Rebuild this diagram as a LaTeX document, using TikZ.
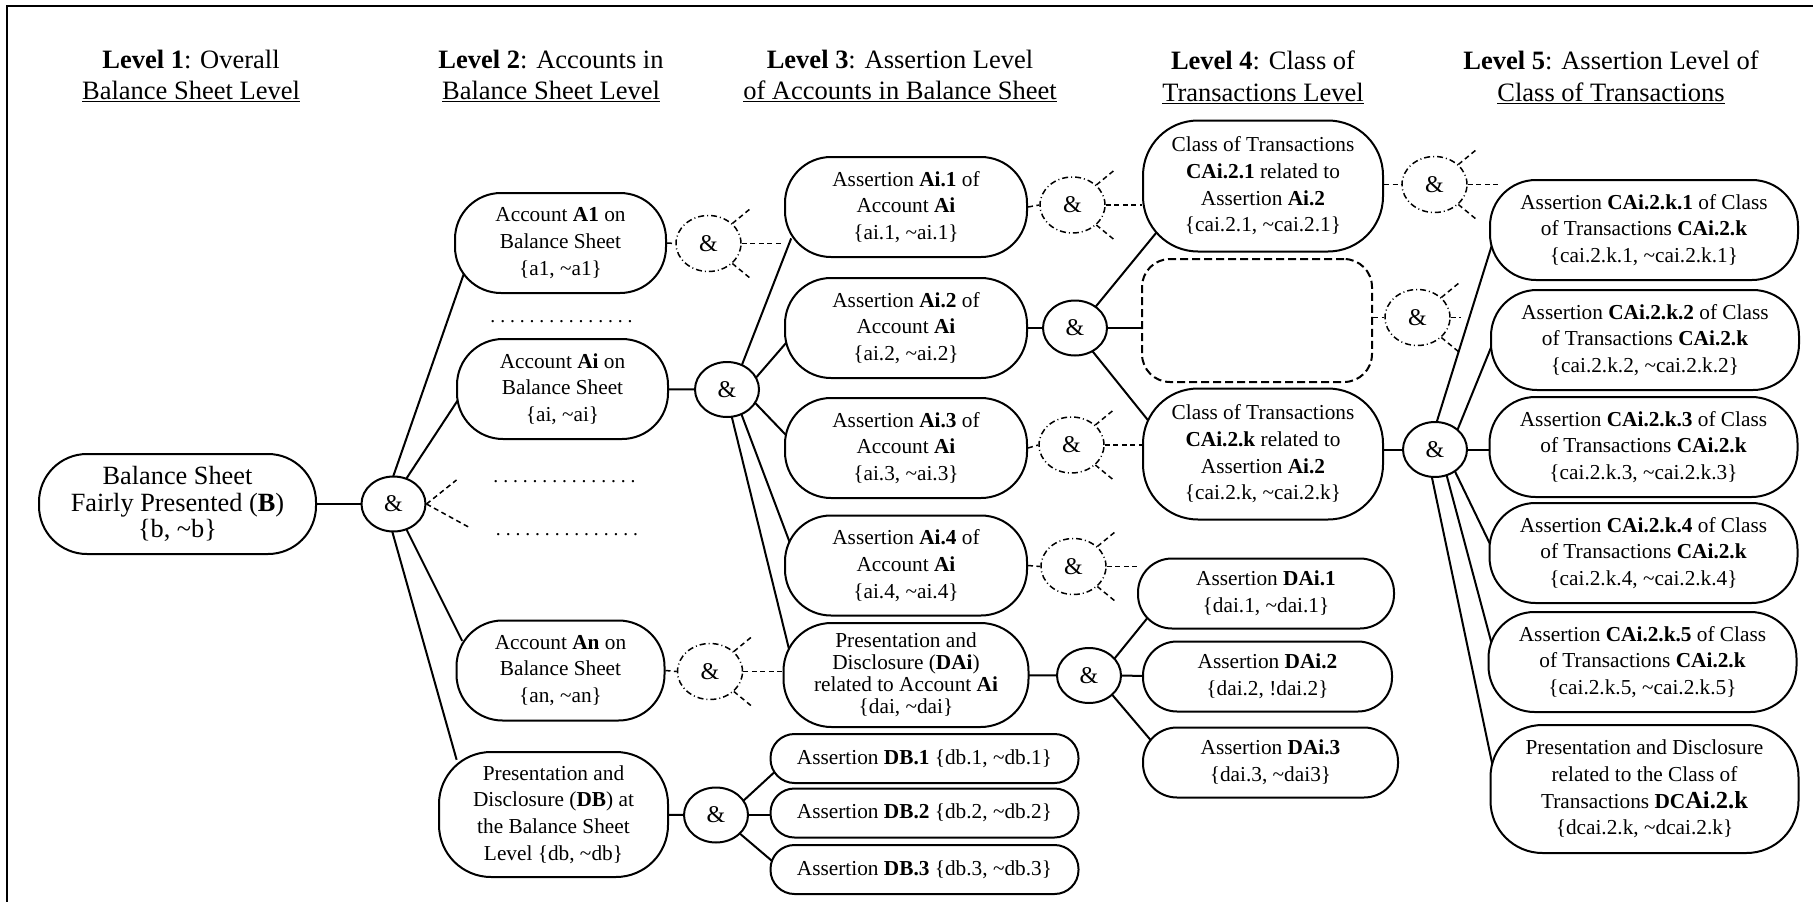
\documentclass[tikz,border=0pt]{standalone}
\usepackage{fontspec}
\setmainfont{Liberation Serif}
\usetikzlibrary{shapes.geometric,positioning,calc}
\pgfdeclarelayer{bg}
\pgfsetlayers{bg,main}
\tikzset{
  levelhead/.style={align=center,inner sep=0pt,
    font=\fontsize{26.5}{31.7}\selectfont},
  stmt/.style={draw=black,line width=2pt,fill=white,rounded corners=46pt,
    align=center,inner sep=0pt,font=\fontsize{21.3}{26.7}\selectfont},
  acctbox/.style={stmt,minimum width=211pt,minimum height=100pt},
  assertbox/.style={stmt,minimum width=242pt,minimum height=100pt},
  classbox/.style={stmt,minimum width=240pt,minimum height=131pt,
    rounded corners=55pt},
  cassertbox/.style={stmt,minimum width=308pt,minimum height=100pt},
  dassertbox/.style={stmt,minimum width=255pt,minimum height=70pt,
    rounded corners=34pt},
  pillbox/.style={stmt,minimum width=308pt,minimum height=49pt,
    rounded corners=24pt},
  andnode/.style={draw=black,ellipse,line width=2pt,fill=white,inner sep=0pt,
    minimum width=64pt,minimum height=55pt,font=\fontsize{24}{24}\selectfont},
  optand/.style={andnode,line width=1.5pt,
    dash pattern=on 6pt off 3pt on 1pt off 3pt,
    minimum width=65pt,minimum height=56pt},
  dotrow/.style={anchor=base,inner sep=0pt,
    font=\fontsize{19.6}{20}\selectfont\frenchspacing},
  link/.style={line width=2pt,shorten >=-6pt,shorten <=-6pt},
  dlink/.style={line width=1.5pt,dash pattern=on 5pt off 3.5pt},
}

\begin{document}
\begin{tikzpicture}[x=1pt,y=-1pt]
\useasboundingbox (0,0) rectangle (1813,902);
\draw[line width=2pt] (7,902) -- (7,6) -- (1813,6);

% headings
\node[levelhead] (h1) at (191,76) {\textbf{Level 1}: Overall\\\underline{Balance Sheet Level}};
\node[levelhead] (h2) at (551,76) {\textbf{Level 2}: Accounts in\\\underline{Balance Sheet Level}};
\node[levelhead] (h3) at (900,76) {\textbf{Level 3}: Assertion Level\\\underline{of Accounts in Balance Sheet}};
\node[levelhead] (h4) at (1263,77) {\textbf{Level 4}: Class of\\\underline{Transactions Level}};
\node[levelhead] (h5) at (1611,77) {\textbf{Level 5}: Assertion Level of\\\underline{Class of Transactions}};

% level 1 and 2
\node[stmt,minimum width=277pt,minimum height=100pt,rounded corners=48pt,
  font=\fontsize{26.3}{26.7}\selectfont] (bs) at (177.5,504)
  {Balance Sheet\\Fairly Presented (\textbf{B})\\\{b, \textasciitilde b\}};
\node[andnode] (andbs) at (393.5,504) {\&};
\node[acctbox] (a1) at (560.5,243) {Account \textbf{A1} on\\Balance Sheet\\\{a1, \textasciitilde a1\}};
\node[acctbox] (ai) at (562.5,389) {Account \textbf{Ai} on\\Balance Sheet\\\{ai, \textasciitilde ai\}};
\node[acctbox,minimum width=208pt] (an) at (560.5,670.5) {Account \textbf{An} on\\Balance Sheet\\\{an, \textasciitilde an\}};
\node[stmt,minimum width=229pt,minimum height=125pt,rounded corners=52pt] (db) at (553.5,814.5)
  {Presentation and\\Disclosure (\textbf{DB}) at\\the Balance Sheet\\Level \{db, \textasciitilde db\}};
\node[dotrow] (dots1) at (561.5,322) {. . . . . . . . . . . . . . .};
\node[dotrow] (dots2) at (564.5,482) {. . . . . . . . . . . . . . .};
\node[dotrow] (dots3) at (567,535) {. . . . . . . . . . . . . . .};

% level 3
\node[optand] (orA1) at (708.5,243.5) {\&};
\node[optand] (orAn) at (710,671.5) {\&};
\node[andnode] (andai) at (727,389.5) {\&};
\node[assertbox] (ai1) at (906,207) {Assertion \textbf{Ai.1} of\\Account \textbf{Ai}\\\{ai.1, \textasciitilde ai.1\}};
\node[assertbox] (ai2) at (906,328) {Assertion \textbf{Ai.2} of\\Account \textbf{Ai}\\\{ai.2, \textasciitilde ai.2\}};
\node[assertbox] (ai3) at (906,448) {Assertion \textbf{Ai.3} of\\Account \textbf{Ai}\\\{ai.3, \textasciitilde ai.3\}};
\node[assertbox] (ai4) at (906,565.5) {Assertion \textbf{Ai.4} of\\Account \textbf{Ai}\\\{ai.4, \textasciitilde ai.4\}};
\node[assertbox,minimum width=245pt,minimum height=104pt,rounded corners=48pt,
  font=\fontsize{21.3}{22}\selectfont] (dai) at (906,675)
  {Presentation and\\Disclosure (\textbf{DAi})\\related to Account \textbf{Ai}\\\{dai, \textasciitilde dai\}};
\node[andnode] (anddb) at (716,815) {\&};
\node[pillbox] (db1) at (924.5,758.5) {Assertion \textbf{DB.1} \{db.1, \textasciitilde db.1\}};
\node[pillbox] (db2) at (924.5,813) {Assertion \textbf{DB.2} \{db.2, \textasciitilde db.2\}};
\node[pillbox] (db3) at (924.5,869.5) {Assertion \textbf{DB.3} \{db.3, \textasciitilde db.3\}};

% level 4
\node[optand] (orAi1) at (1072.5,205) {\&};
\node[optand] (orAi3) at (1071.5,445) {\&};
\node[optand] (orAi4) at (1073.5,566.5) {\&};
\node[andnode] (andc) at (1075,328) {\&};
\node[classbox] (c21) at (1263,186) {Class of Transactions\\\textbf{CAi.2.1} related to\\Assertion \textbf{Ai.2}\\\{cai.2.1, \textasciitilde cai.2.1\}};
\node[stmt,dash pattern=on 8pt off 4pt,rounded corners=28pt,
  minimum width=230pt,minimum height=123pt] (cmid) at (1257,320.5) {};
\node[classbox] (c2k) at (1263,454) {Class of Transactions\\\textbf{CAi.2.k} related to\\Assertion \textbf{Ai.2}\\\{cai.2.k, \textasciitilde cai.2.k\}};
\node[andnode] (anddai) at (1089,675.5) {\&};
\node[dassertbox,minimum width=256pt] (dai1) at (1266,593.5) {Assertion \textbf{DAi.1}\\\{dai.1, \textasciitilde dai.1\}};
\node[dassertbox,minimum width=249pt] (dai2) at (1267.5,676.5) {Assertion \textbf{DAi.2}\\\{dai.2, !dai.2\}};
\node[dassertbox] (dai3) at (1270.5,762.5) {Assertion \textbf{DAi.3}\\\{dai.3, \textasciitilde dai3\}};

% level 5
\node[optand] (orC21) at (1434.5,184.5) {\&};
\node[optand] (orCmid) at (1417.5,317.5) {\&};
\node[andnode] (andc2k) at (1435,449.5) {\&};
\node[cassertbox] (k1) at (1644,230) {Assertion \textbf{CAi.2.k.1} of Class\\of Transactions \textbf{CAi.2.k}\\\{cai.2.k.1, \textasciitilde cai.2.k.1\}};
\node[cassertbox] (k2) at (1645,340) {Assertion \textbf{CAi.2.k.2} of Class\\of Transactions \textbf{CAi.2.k}\\\{cai.2.k.2, \textasciitilde cai.2.k.2\}};
\node[cassertbox] (k3) at (1643.5,447) {Assertion \textbf{CAi.2.k.3} of Class\\of Transactions \textbf{CAi.2.k}\\\{cai.2.k.3, \textasciitilde cai.2.k.3\}};
\node[cassertbox] (k4) at (1643.5,553) {Assertion \textbf{CAi.2.k.4} of Class\\of Transactions \textbf{CAi.2.k}\\\{cai.2.k.4, \textasciitilde cai.2.k.4\}};
\node[cassertbox] (k5) at (1642.5,662) {Assertion \textbf{CAi.2.k.5} of Class\\of Transactions \textbf{CAi.2.k}\\\{cai.2.k.5, \textasciitilde cai.2.k.5\}};
\node[cassertbox,minimum height=128pt,rounded corners=52pt] (dck) at (1644.5,789)
  {Presentation and Disclosure\\related to the Class of\\Transactions \textbf{DC}{\fontsize{24.5}{26}\selectfont\textbf{Ai.2.k}}\\\{dcai.2.k, \textasciitilde dcai.2.k\}};

\begin{pgfonlayer}{bg}
% solid connectors
\draw[link] (bs) -- (andbs);
\draw[link] (andbs.north) -- ([xshift=8pt,yshift=15pt]a1.south west);
\draw[link] (andbs.63) -- ([yshift=-14pt]ai.west);
\draw[link] (andbs.-63) -- ([xshift=4pt,yshift=35pt]an.west);
\draw[link] (andbs.268) -- ([xshift=17pt,yshift=-3pt]db.north west);
\draw[link] (ai) -- (andai);
\draw[link] (andai.59) -- ([xshift=5pt,yshift=14pt]ai1.south west);
\draw[link] (andai.23) -- ([xshift=2pt,yshift=-15pt]ai2.west);
\draw[link] (andai.-26) -- ([yshift=15pt]ai3.west);
\draw[link] (andai.-60) -- ([xshift=5pt,yshift=25pt]ai4.west);
\draw[link] (andai.-80) -- ([xshift=6pt,yshift=28pt]dai.west);
\draw[link] (db) -- (anddb);
\draw[link] (anddb.28) -- ([xshift=4pt,yshift=11pt]db1.south west);
\draw[link] (anddb) -- (anddb.east -| db2.west);
\draw[link] (anddb.-38) -- ([xshift=2pt,yshift=9pt]db3.west);
\draw[link] (ai2) -- (andc);
\draw[link] (andc.46) -- ([xshift=12pt,yshift=17pt]c21.south west);
\draw[link,shorten >=0pt] (andc) -- (andc.east -| cmid.west);
\draw[link] (andc.-53) -- ([xshift=5pt,yshift=35pt]c2k.west);
\draw[link] (dai) -- (anddai);
\draw[link] (anddai.34) -- ([xshift=10pt,yshift=11pt]dai1.south west);
\draw[link] (anddai) -- (dai2);
\draw[link] (anddai.-40) -- ([xshift=9pt,yshift=-14pt]dai3.north west);
\draw[link] (andc2k.west -| c2k.east) -- (andc2k);
\draw[link] (andc2k.86) -- ([xshift=2pt,yshift=-18pt]k1.west);
\draw[link] (andc2k.42) -- ([yshift=-10pt]k2.west);
\draw[link] (andc2k) -- (andc2k.east -| k3.west);
\draw[link] (andc2k.-48) -- ([xshift=2pt,yshift=8pt]k4.west);
\draw[link] (andc2k.-66) -- ([xshift=4pt,yshift=19pt]k5.west);
\draw[link] (andc2k.-96) -- ([xshift=3pt,yshift=24pt]dck.west);
% dashed branches
\draw[dlink] (andbs.east) -- ++(30,-24);
\draw[dlink] (andbs.east) -- ++(42,23);
\draw[dlink] (a1.east) -- (orA1.west);
\draw[dlink] (orA1.east) -- (orA1.east -| ai1.west);
\draw[dlink] (orA1.40) -- ++(17,-14);
\draw[dlink] (orA1.-40) -- ++(17,14);
\draw[dlink] (an.east) -- (orAn.west);
\draw[dlink] (orAn.east) -- (orAn.east -| dai.west);
\draw[dlink] (orAn.40) -- ++(17,-14);
\draw[dlink] (orAn.-40) -- ++(17,14);
\draw[dlink] (ai1.east) -- (orAi1.west);
\draw[dlink] (orAi1.east) -- (orAi1.east -| c21.west);
\draw[dlink] (orAi1.40) -- ++(17,-14);
\draw[dlink] (orAi1.-40) -- ++(17,14);
\draw[dlink] (ai3.east) -- (orAi3.west);
\draw[dlink] (orAi3.east) -- (orAi3.east -| c2k.west);
\draw[dlink] (orAi3.40) -- ++(17,-14);
\draw[dlink] (orAi3.-40) -- ++(17,14);
\draw[dlink] (ai4.east) -- (orAi4.west);
\draw[dlink] (orAi4.east) -- (orAi4.east -| dai1.west);
\draw[dlink] (orAi4.40) -- ++(17,-14);
\draw[dlink] (orAi4.-40) -- ++(17,14);
\draw[dlink] (orC21.west -| c21.east) -- (orC21.west);
\draw[dlink] (orC21.east) -- ++(30,0);
\draw[dlink] (orC21.40) -- ++(17,-14);
\draw[dlink] (orC21.-40) -- ++(17,14);
\draw[dlink] (orCmid.west -| cmid.east) -- (orCmid.west);
\draw[dlink] (orCmid.east) -- ++(10,0);
\draw[dlink] (orCmid.40) -- ++(17,-14);
\draw[dlink] (orCmid.-40) -- ++(17,14);
\end{pgfonlayer}
\end{tikzpicture}
\end{document}
